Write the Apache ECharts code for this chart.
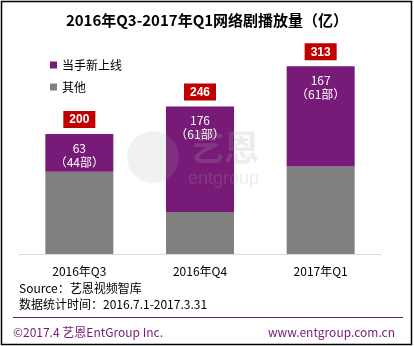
<!DOCTYPE html>
<html>
<head>
<meta charset="utf-8">
<script src="https://cdn.jsdelivr.net/npm/echarts@6/dist/echarts.min.js"></script>
<style>
  html, body { margin: 0; padding: 0; background: #fff; }
  #chart { width: 414px; height: 346px; }
</style>
</head>
<body>
<div id="chart"></div>
<script>
// Quarterly web-drama play counts (unit: 亿)
const categories = ['2016年Q3', '2016年Q4', '2017年Q1'];
const newShows = [63, 176, 167];      // 当季新上线
const newShowCounts = [44, 61, 61];   // number of new titles (部)
const others = [137, 70, 146];        // 其他
const totals = newShows.map((v, i) => v + others[i]);

const FONT = '"Microsoft YaHei", "Noto Sans CJK SC", sans-serif';
const PURPLE = '#781A78';
const GRAY = '#808080';

const chart = echarts.init(document.getElementById('chart'), null, { renderer: 'canvas' });

chart.setOption({
  animation: false,
  backgroundColor: '#fff',
  textStyle: { fontFamily: FONT },
  title: {
    text: '2016年Q3-2017年Q1网络剧播放量（亿）',
    left: 'center',
    top: 8,
    textStyle: { fontSize: 15, fontWeight: 'bold', color: '#000', fontFamily: FONT }
  },
  legend: {
    orient: 'vertical',
    left: 45,
    top: 54,
    itemWidth: 7,
    itemHeight: 7,
    itemGap: 10,
    icon: 'rect',
    data: ['当手新上线', '其他'],
    textStyle: { fontSize: 12, color: '#000', fontFamily: FONT }
  },
  grid: { left: 19, right: 33, top: 44, bottom: 92 },
  xAxis: {
    type: 'category',
    data: categories,
    axisLine: { lineStyle: { color: '#D9D9D9', width: 1 } },
    axisTick: { show: false },
    axisLabel: { color: '#000', fontSize: 12, margin: 11, fontFamily: FONT }
  },
  yAxis: {
    type: 'value',
    min: 0,
    max: 350,
    show: false,
    splitLine: { show: false }
  },
  series: [
    {
      name: '其他',
      type: 'bar',
      stack: 'total',
      barWidth: 68,
      data: others,
      itemStyle: { color: GRAY }
    },
    {
      name: '当手新上线',
      type: 'bar',
      stack: 'total',
      barWidth: 68,
      data: newShows,
      itemStyle: { color: PURPLE },
      label: {
        show: true,
        position: 'insideTop',
        distance: 7,
        color: '#fff',
        fontSize: 12,
        lineHeight: 14,
        fontFamily: FONT,
        formatter: p => p.value + '\n（' + newShowCounts[p.dataIndex] + '部）'
      }
    },
    {
      name: 'total',
      type: 'bar',
      stack: 'total',
      barWidth: 68,
      data: totals.map(() => 0),
      itemStyle: { color: 'transparent' },
      label: {
        show: true,
        position: 'top',
        distance: 6,
        color: '#fff',
        backgroundColor: '#C00000',
        fontWeight: 'bold',
        fontSize: 12,
        fontFamily: 'Arial, "Liberation Sans", sans-serif',
        padding: [3, 6, 2, 6],
        formatter: p => String(totals[p.dataIndex])
      }
    }
  ],
  graphic: [
    // watermark logo
    {
      type: 'circle', shape: { cx: 153, cy: 157, r: 26 },
      style: { fill: 'rgba(170,170,170,0.16)' }, z: 100, silent: true
    },
    {
      type: 'text', left: 189, top: 130, z: 100, silent: true,
      style: { text: '艺恩', fontSize: 35, fontWeight: 'bold', fill: 'rgba(170,170,170,0.22)', fontFamily: FONT }
    },
    {
      type: 'text', left: 188, top: 170, z: 100, silent: true,
      style: { text: 'entgroup', fontSize: 18, fill: 'rgba(170,170,170,0.22)', fontFamily: 'Arial, "Liberation Sans", sans-serif' }
    },
    // source notes
    {
      type: 'text', left: 19, top: 282,
      style: { text: 'Source：艺恩视频智库', fontSize: 12, fill: '#000', fontFamily: FONT }
    },
    {
      type: 'text', left: 19, top: 298,
      style: { text: '数据统计时间：2016.7.1-2017.3.31', fontSize: 12, fill: '#000', fontFamily: FONT }
    },
    // footer rule and credits
    {
      type: 'line', shape: { x1: 13, y1: 317.5, x2: 403, y2: 317.5 },
      style: { stroke: PURPLE, lineWidth: 1 }
    },
    {
      type: 'text', left: 13, top: 326,
      style: { text: '©2017.4 艺恩EntGroup Inc.', fontSize: 12, fill: PURPLE, fontFamily: FONT }
    },
    {
      type: 'text', right: 19, top: 326,
      style: { text: 'www.entgroup.com.cn', fontSize: 12, fill: PURPLE, fontFamily: FONT }
    },
    // outer frame
    {
      type: 'rect', shape: { x: 1.5, y: 1.5, width: 410, height: 343 },
      style: { fill: 'none', stroke: '#000', lineWidth: 1.5 }, z: 200
    }
  ]
});
</script>
</body>
</html>
